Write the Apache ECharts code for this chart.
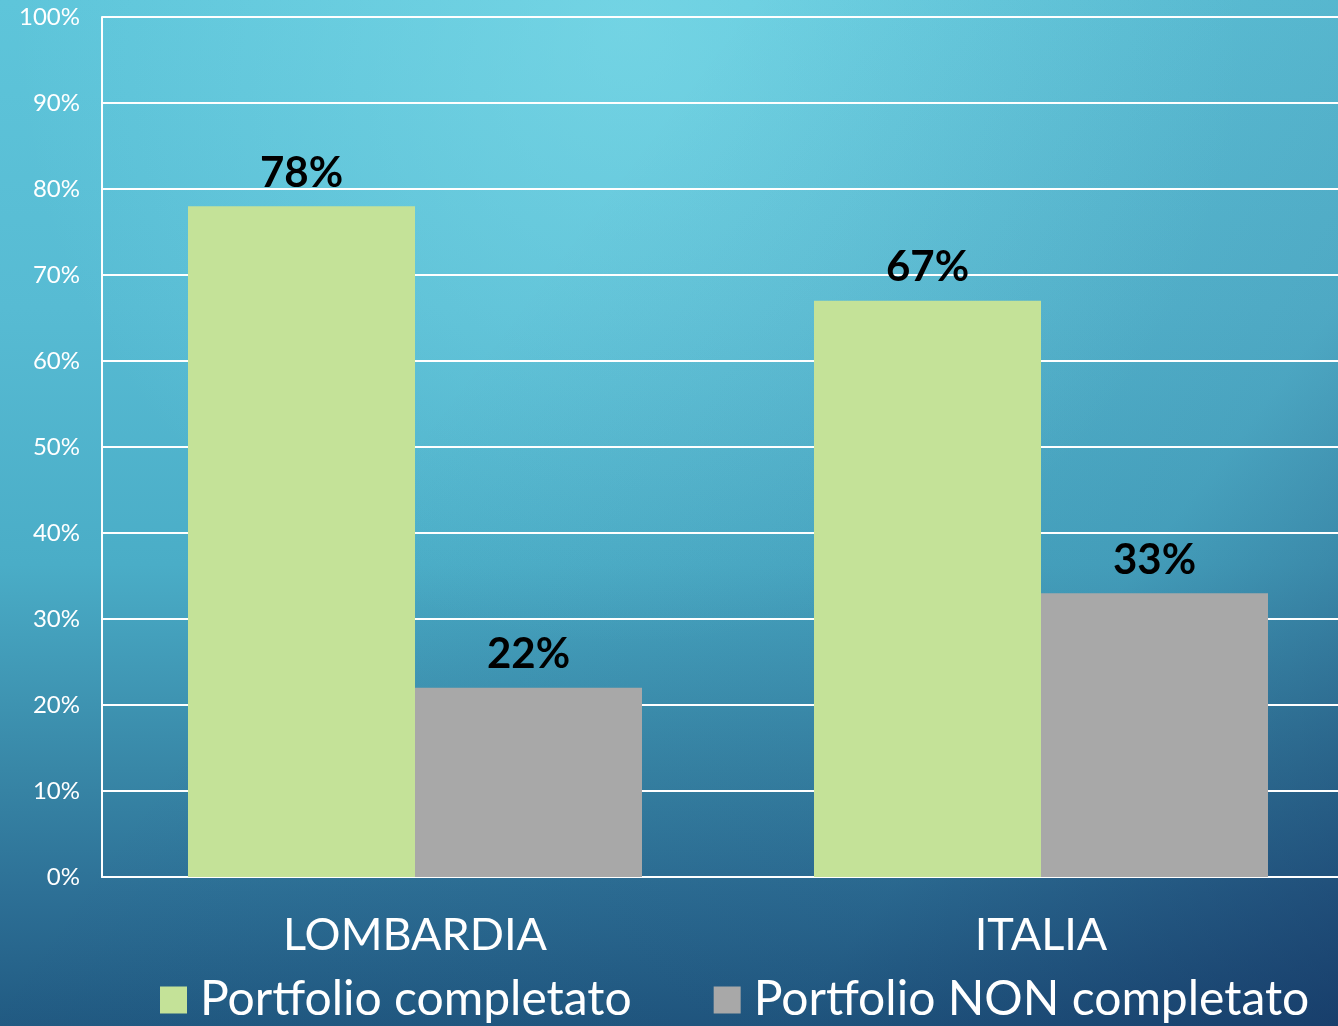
<!DOCTYPE html>
<html>
<head>
<meta charset="utf-8">
<script src="https://cdn.jsdelivr.net/npm/echarts@6/dist/echarts.min.js"></script>
<style>
html,body{margin:0;padding:0;width:1338px;height:1026px;overflow:hidden;}
#c{width:1338px;height:1026px;}
</style>
</head>
<body>
<div id="c"></div>
<script>
const categories = ['LOMBARDIA', 'ITALIA'];
const seriesNames = ['Portfolio completato', 'Portfolio NON completato'];
const completato = [78, 67];
const nonCompletato = [22, 33];
const yTicks = [0, 10, 20, 30, 40, 50, 60, 70, 80, 90, 100];

const chart = echarts.init(document.getElementById('c'), null, {renderer: 'canvas'});
const font = 'Lato, "Open Sans", sans-serif';
const labelStyle = {
  show: true, position: 'top', distance: 12,
  formatter: p => p.value + '%',
  color: '#000', fontFamily: font, fontWeight: 'bold', fontSize: 42
};
const W = 1338, H = 1026;
chart.setOption({
  backgroundColor: '#3f9ebc',
  animation: false,
  textStyle: {fontFamily: font},
  graphic: [
    {type: 'rect', z: -30, silent: true, shape: {x: 0, y: 0, width: W, height: H},
     style: {fill: {type: 'linear', x: 0, y: 0, x2: 0, y2: 1, colorStops: [
       {offset: 0, color: '#5ec5da'},
       {offset: 0.3, color: '#57bbd3'},
       {offset: 0.55, color: '#4aadc7'},
       {offset: 0.75, color: '#3887a7'},
       {offset: 0.87, color: '#2d7096'},
       {offset: 1, color: '#215a82'}
     ]}}},
    {type: 'rect', z: -29, silent: true, shape: {x: 0, y: 0, width: W, height: H},
     style: {fill: {type: 'radial', x: 0.47, y: 0.03, r: 0.6, colorStops: [
       {offset: 0, color: 'rgba(140,230,240,0.45)'},
       {offset: 1, color: 'rgba(140,230,240,0)'}
     ]}}},
    {type: 'rect', z: -28, silent: true, shape: {x: 0, y: 0, width: W, height: H},
     style: {fill: {type: 'linear', x: 0.35, y: 0.35, x2: 1, y2: 1, colorStops: [
       {offset: 0, color: 'rgba(15,35,85,0)'},
       {offset: 0.6, color: 'rgba(15,35,85,0.12)'},
       {offset: 1, color: 'rgba(15,35,85,0.5)'}
     ]}}}
  ],
  grid: {left: 102, right: -16, top: 17, bottom: 149, containLabel: false, outerBoundsMode: 'none'},
  legend: {
    left: 160, top: 976, padding: 0,
    itemWidth: 27, itemHeight: 27, itemGap: 82,
    icon: 'rect',
    textStyle: {color: '#fff', fontSize: 48, fontFamily: font, padding: [0, 0, 0, 8]},
    data: seriesNames
  },
  xAxis: {
    type: 'category', data: categories,
    axisLine: {show: true, lineStyle: {color: '#fff', width: 2}},
    axisTick: {show: false},
    axisLabel: {color: '#fff', fontSize: 45, fontFamily: font, margin: 36}
  },
  yAxis: {
    type: 'value', min: yTicks[0], max: yTicks[yTicks.length - 1], interval: 10,
    axisLine: {show: true, lineStyle: {color: '#fff', width: 2}},
    axisTick: {show: false},
    splitLine: {show: true, lineStyle: {color: '#fff', width: 2}},
    axisLabel: {color: '#fff', fontSize: 24, fontFamily: font, margin: 22, formatter: v => v + '%'}
  },
  series: [
    {name: seriesNames[0], type: 'bar', data: completato, barWidth: 227, barGap: '0%',
     itemStyle: {color: '#c4e298'}, label: labelStyle},
    {name: seriesNames[1], type: 'bar', data: nonCompletato, barWidth: 227, barGap: '0%',
     itemStyle: {color: '#a8a8a8'}, label: labelStyle}
  ]
});
</script>
</body>
</html>
